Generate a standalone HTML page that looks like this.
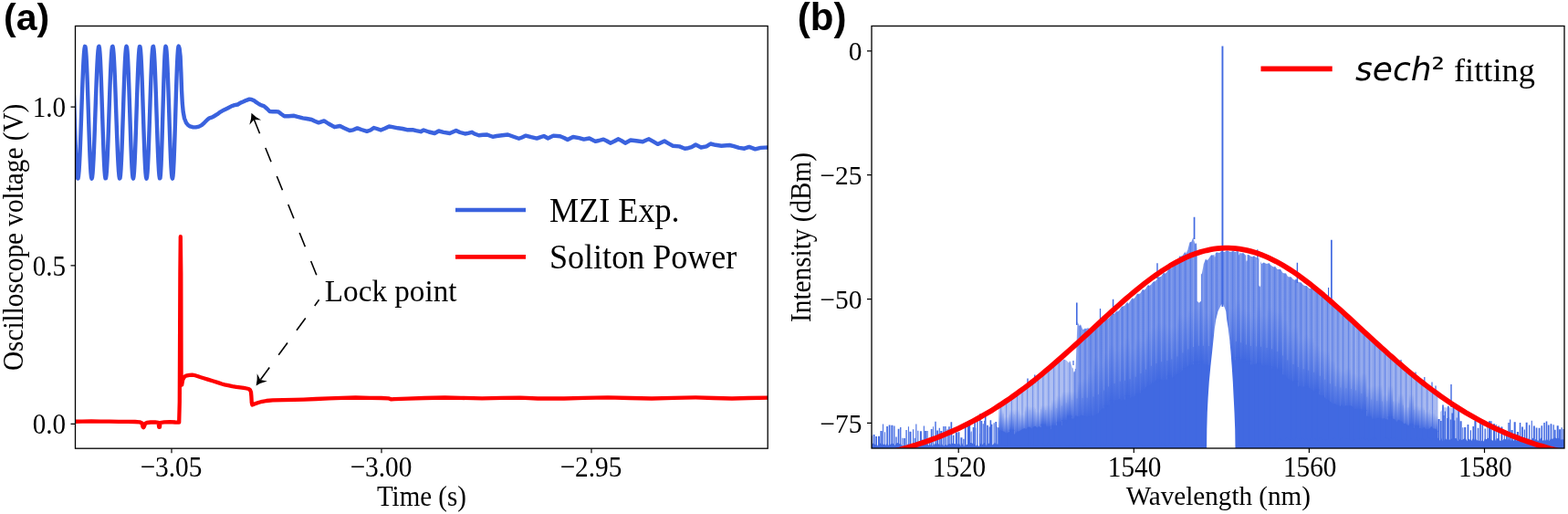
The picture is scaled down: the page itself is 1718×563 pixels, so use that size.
<!DOCTYPE html>
<html><head><meta charset="utf-8"><title>Figure</title>
<style>html,body{margin:0;padding:0;background:#fff;overflow:hidden}svg{display:block}</style>
</head><body>
<svg width="1718" height="563" viewBox="0 0 1718 563">
<defs>
<clipPath id="ca"><rect x="82.5" y="28.5" width="758.7" height="462.7"/></clipPath>
<clipPath id="cb"><rect x="955.0" y="28.5" width="759.0" height="462.5"/></clipPath>
</defs>
<rect width="1718" height="563" fill="#fff"/>
<g clip-path="url(#ca)" fill="none" stroke-linejoin="round" stroke-linecap="round">
<path d="M80.0 81.0 L80.5 94.0 L81.0 108.3 L81.5 123.1 L82.0 138.0 L82.5 152.3 L83.0 165.3 L83.5 176.5 L84.0 185.5 L84.5 191.8 L85.0 195.1 L85.5 195.5 L86.0 192.9 L86.5 187.6 L87.0 179.7 L87.5 169.7 L88.0 157.7 L88.5 144.5 L89.0 130.4 L89.5 115.9 L90.0 101.8 L90.5 88.6 L91.0 76.6 L91.5 66.6 L92.0 58.7 L92.5 53.4 L93.0 50.8 L93.5 51.2 L94.0 54.9 L94.5 61.7 L95.0 71.3 L95.5 83.3 L96.0 97.2 L96.5 112.3 L97.0 127.8 L97.5 143.2 L98.0 157.6 L98.5 170.4 L99.0 181.1 L99.5 189.1 L100.0 194.0 L100.5 195.7 L101.0 194.3 L101.5 190.0 L102.0 183.2 L102.5 173.9 L103.0 162.7 L103.5 149.9 L104.0 136.1 L104.5 121.7 L105.0 107.4 L105.5 93.7 L106.0 81.2 L106.5 70.3 L107.0 61.6 L107.5 55.2 L108.0 51.5 L108.5 50.7 L109.0 53.0 L109.5 58.6 L110.0 67.1 L110.5 78.3 L111.0 91.5 L111.5 106.1 L112.0 121.6 L112.5 137.1 L113.0 152.0 L113.5 165.5 L114.0 177.1 L114.5 186.2 L115.0 192.4 L115.5 195.4 L116.0 195.1 L116.5 191.8 L117.0 185.5 L117.5 176.5 L118.0 165.3 L118.5 152.3 L119.0 138.0 L119.5 123.2 L120.0 108.3 L120.5 94.0 L121.0 81.0 L121.5 69.8 L122.0 60.8 L122.5 54.5 L123.0 51.2 L123.5 50.8 L124.0 53.4 L124.5 58.7 L125.0 66.6 L125.5 76.6 L126.0 88.6 L126.5 101.8 L127.0 115.9 L127.5 130.4 L128.0 144.5 L128.5 157.7 L129.0 169.7 L129.5 179.7 L130.0 187.6 L130.5 192.9 L131.0 195.5 L131.5 195.1 L132.0 191.6 L132.5 184.9 L133.0 175.5 L133.5 163.8 L134.0 150.2 L134.5 135.4 L135.0 120.1 L135.5 104.9 L136.0 90.5 L136.5 77.6 L137.0 66.7 L137.5 58.4 L138.0 52.9 L138.5 50.7 L139.0 51.7 L139.5 56.0 L140.0 63.4 L140.5 73.5 L141.0 86.0 L141.5 100.1 L142.0 115.4 L142.5 130.9 L143.0 146.2 L143.5 160.3 L144.0 172.8 L144.5 182.9 L145.0 190.3 L145.5 194.6 L146.0 195.6 L146.5 193.3 L147.0 187.7 L147.5 179.2 L148.0 168.0 L148.5 154.8 L149.0 140.2 L149.5 124.7 L150.0 109.2 L150.5 94.3 L151.0 80.8 L151.5 69.2 L152.0 60.1 L152.5 53.9 L153.0 50.9 L153.5 51.2 L154.0 54.9 L154.5 61.7 L155.0 71.3 L155.5 83.3 L156.0 97.2 L156.5 112.3 L157.0 127.8 L157.5 143.2 L158.0 157.6 L158.5 170.4 L159.0 181.1 L159.5 189.1 L160.0 194.0 L160.5 195.7 L161.0 194.0 L161.5 189.1 L162.0 181.1 L162.5 170.4 L163.0 157.6 L163.5 143.2 L164.0 127.8 L164.5 112.3 L165.0 97.2 L165.5 83.3 L166.0 71.3 L166.5 61.7 L167.0 54.9 L167.5 51.2 L168.0 50.9 L168.5 53.8 L169.0 59.8 L169.5 68.7 L170.0 80.0 L170.5 93.3 L171.0 107.9 L171.5 123.2 L172.0 138.4 L172.5 153.0 L173.0 166.3 L173.5 177.6 L174.0 186.5 L174.5 192.5 L175.0 195.4 L175.5 194.9 L176.0 190.2 L176.5 181.4 L177.0 169.2 L177.5 154.2 L178.0 137.3 L178.5 119.6 L179.0 102.1 L179.5 85.9 L180.0 71.8 L180.5 60.9 L181.0 53.7 L181.5 50.7 L182.0 51.7 L182.5 56.0 L183.0 63.4 L183.5 73.5 L184.0 86.0 L184.5 100.1 L185.0 115.4 L185.5 130.9 L186.0 146.2 L186.5 160.3 L187.0 172.8 L187.5 182.9 L188.0 190.3 L188.5 194.6 L189.0 195.6 L189.5 192.9 L190.0 186.5 L190.5 176.8 L191.0 164.2 L191.5 149.4 L192.0 133.2 L192.5 116.5 L193.0 100.1 L193.5 85.0 L194.0 71.8 L194.5 61.5 L195.0 54.4 L195.5 50.9 L195.7 50.6 L196.6 53.0 L197.6 62.0 L198.4 80.0 L199.1 100.0 L199.8 113.0 L200.7 122.5 L202.0 129.5 L203.9 134.3 L206.0 137.0 L208.1 138.4 L211.0 139.2 L214.5 139.4 L218.0 138.6 L220.9 137.1 L224.0 134.3 L227.3 131.0 L229.5 129.3 L232.6 128.4 L235.0 127.0 L238.0 125.2 L241.5 122.6 L245.4 120.4 L249.0 118.7 L254.0 116.1 L257.0 115.2 L260.4 114.5 L263.5 112.6 L266.8 111.3 L270.0 109.8 L273.2 108.7 L275.5 108.9 L278.5 110.3 L281.0 112.2 L283.8 114.0 L286.5 115.4 L289.1 116.1 L292.5 119.0 L295.5 122.0 L299.0 122.3 L302.0 122.1 L305.1 122.5 L308.0 124.8 L311.5 127.3 L316.0 127.2 L322.2 126.8 L326.0 127.9 L331.8 129.4 L336.0 130.0 L341.4 131.0 L345.0 132.8 L349.1 134.4 L355.1 132.4 L360.0 135.5 L366.5 139.2 L372.5 138.0 L377.0 140.2 L383.1 143.0 L387.0 142.3 L391.5 140.4 L396.0 142.0 L402.0 143.8 L406.0 142.5 L409.6 140.0 L413.0 141.0 L417.2 142.5 L421.5 140.8 L426.3 138.5 L430.0 139.2 L436.0 140.3 L441.0 141.0 L445.9 142.2 L452.0 142.2 L456.0 143.2 L461.0 144.2 L464.1 142.5 L470.0 144.5 L476.2 146.0 L480.7 143.5 L486.0 144.8 L492.8 146.0 L499.7 143.0 L504.0 145.0 L509.5 146.5 L513.0 145.8 L517.1 144.8 L520.5 146.8 L524.6 148.3 L529.0 147.8 L533.7 147.5 L537.0 148.8 L539.8 149.8 L544.0 149.0 L550.0 148.3 L556.4 147.5 L562.0 149.5 L568.5 151.8 L572.0 150.5 L576.1 148.6 L582.0 150.2 L588.2 151.6 L591.0 150.6 L595.9 149.0 L600.4 151.5 L606.3 148.6 L613.7 149.3 L618.0 151.0 L621.9 153.0 L627.9 150.0 L634.5 151.1 L639.7 152.6 L645.7 151.5 L652.3 154.9 L656.0 154.0 L661.2 152.6 L665.0 154.5 L668.7 156.7 L673.0 154.8 L677.6 152.3 L681.0 154.2 L685.0 156.7 L690.9 153.5 L697.0 154.2 L704.3 155.2 L708.0 153.5 L711.0 152.3 L716.0 155.2 L720.6 157.9 L728.0 154.5 L732.0 156.8 L737.0 159.7 L744.4 160.4 L750.3 162.7 L754.0 162.2 L757.7 161.2 L762.2 158.5 L768.1 161.5 L774.0 160.4 L778.5 157.5 L784.0 158.8 L790.4 159.7 L799.3 159.0 L804.0 160.2 L809.7 161.9 L815.6 162.7 L820.8 160.9 L827.5 163.4 L833.4 161.9 L838.0 161.6 L843.0 161.5" stroke="#3a62de" stroke-width="4.4"/>
<path d="M80.0 461.8 L90.0 461.6 L100.0 461.5 L110.0 461.7 L120.0 461.6 L130.0 461.9 L140.0 461.8 L148.0 462.0 L153.0 462.3 L155.5 463.5 L156.5 467.5 L157.2 468.2 L158.0 467.0 L159.0 464.0 L161.0 463.0 L165.0 462.5 L170.0 462.4 L173.5 462.8 L174.2 467.8 L175.0 467.8 L175.5 463.0 L180.0 462.3 L186.0 462.2 L192.0 462.5 L196.2 462.6 L196.8 440.0 L197.4 300.0 L197.8 259.2 L198.3 300.0 L198.6 420.0 L199.2 421.5 L200.2 416.0 L201.5 413.5 L203.0 412.0 L204.9 411.3 L207.5 410.8 L210.6 410.6 L213.0 411.0 L216.3 412.0 L220.0 413.3 L224.0 414.5 L227.7 415.6 L233.0 417.2 L239.0 419.1 L243.0 420.5 L246.1 421.3 L250.0 422.1 L254.5 423.1 L258.9 423.8 L263.0 424.4 L267.0 424.9 L270.3 425.5 L272.5 426.0 L274.0 427.2 L275.0 429.5 L275.4 434.0 L275.8 441.0 L276.4 443.5 L278.8 442.6 L283.0 441.0 L287.4 439.8 L292.0 439.0 L298.7 438.3 L310.0 438.2 L322.0 437.9 L332.6 437.6 L346.0 437.0 L360.3 436.3 L375.0 435.8 L389.6 435.5 L405.0 435.8 L418.0 436.0 L425.5 436.3 L428.7 437.4 L432.0 437.1 L446.7 436.6 L465.0 436.0 L487.4 435.5 L505.0 435.9 L528.2 436.3 L550.0 435.9 L570.0 435.7 L589.2 436.5 L618.0 436.5 L640.0 435.9 L666.0 435.4 L690.0 436.0 L714.0 436.5 L738.0 435.9 L762.0 435.4 L782.0 436.0 L802.0 436.5 L820.0 436.0 L843.0 435.7" stroke="#ff0000" stroke-width="4.3"/>
</g>
<path d="M346.8 301.3 L278.3 130.7" stroke="#000" stroke-width="1.6" fill="none" stroke-dasharray="16.5 16.9" stroke-dashoffset="0"/><path d="M275.5 123.7 Q279.2 127.8 286.1 131.5 L278.4 130.9 L273.3 136.7 Q275.7 129.2 275.5 123.7 Z" fill="#000"/>
<path d="M349.6 328.3 L285.0 416.4" stroke="#000" stroke-width="1.6" fill="none" stroke-dasharray="16.5 16.9" stroke-dashoffset="8.3"/><path d="M280.6 422.4 Q282.1 417.1 281.7 409.3 L285.2 416.1 L292.8 417.4 Q285.2 419.3 280.6 422.4 Z" fill="#000"/>
<defs><linearGradient id="gsol" x1="0" y1="0" x2="0" y2="1"><stop offset="0" stop-color="#4169e1" stop-opacity="0"/><stop offset="1" stop-color="#4169e1" stop-opacity="1"/></linearGradient><linearGradient id="glight" gradientUnits="userSpaceOnUse" x1="1094" y1="0" x2="1577" y2="0"><stop offset="0" stop-color="#b3c3f3"/><stop offset="0.1656" stop-color="#a6b8f0"/><stop offset="0.174" stop-color="#7f99eb"/><stop offset="0.22" stop-color="#6f8de8"/><stop offset="0.675" stop-color="#7592e9"/><stop offset="0.84" stop-color="#8ea5ec"/><stop offset="1" stop-color="#a6b8f0"/></linearGradient></defs>
<g clip-path="url(#cb)">
<path d="M1094.3 492.0L1094.3 446.1L1096.1 444.1L1097.9 444.4L1099.8 443.6L1101.8 440.0L1103.6 440.6L1105.6 439.2L1107.6 435.9L1109.4 436.4L1111.4 434.9L1113.3 431.2L1115.1 432.3L1117.1 430.6L1119.1 427.2L1120.9 427.3L1122.9 426.2L1124.9 422.9L1126.7 422.8L1128.7 421.9L1130.6 418.2L1132.4 418.9L1134.4 417.5L1136.4 413.8L1138.2 414.4L1140.2 413.2L1142.2 410.6L1144.0 409.8L1145.9 408.9L1147.9 406.8L1149.7 406.3L1151.7 404.1L1153.7 401.2L1155.5 399.7L1157.5 398.2L1159.4 395.1L1161.2 394.2L1163.2 395.4L1165.2 393.8L1167.0 393.9L1169.0 395.2L1171.0 397.6L1172.8 395.9L1174.8 403.0L1176.7 404.0L1178.5 404.1L1180.5 352.3L1182.5 357.1L1184.3 356.1L1186.3 360.9L1188.3 360.2L1190.1 360.1L1192.0 359.2L1194.0 360.1L1195.8 359.9L1197.8 362.5L1199.8 358.6L1201.6 359.3L1203.6 357.8L1205.6 354.5L1207.4 354.0L1209.3 353.2L1211.3 349.4L1213.1 349.4L1215.1 348.6L1217.1 345.8L1218.9 344.8L1220.9 344.0L1222.8 341.3L1224.6 341.5L1226.6 339.4L1228.6 336.3L1230.4 335.6L1232.4 334.8L1234.4 331.5L1236.2 332.7L1238.1 330.2L1240.1 327.0L1241.9 327.4L1243.9 325.6L1245.9 321.7L1247.7 322.2L1249.7 321.0L1251.7 317.2L1253.5 317.7L1255.4 316.3L1257.4 312.5L1259.2 313.0L1261.2 311.7L1263.2 309.1L1265.0 308.4L1267.0 307.1L1268.9 303.4L1270.7 303.6L1272.7 302.5L1274.7 298.7L1276.5 299.7L1278.5 297.9L1280.5 294.5L1282.3 294.2L1284.3 293.3L1286.2 290.2L1288.0 290.4L1290.0 286.2L1292.0 281.2L1293.8 280.7L1295.8 279.8L1297.8 276.5L1299.6 277.7L1301.5 273.3L1303.5 265.4L1305.3 265.1L1307.3 260.1L1309.3 267.3L1311.1 266.8L1313.1 295.1L1315.0 300.2L1316.8 300.2L1318.8 289.3L1320.8 284.0L1322.6 285.2L1324.6 283.0L1326.6 279.7L1328.4 279.6L1330.4 279.2L1332.3 276.7L1334.1 276.5L1336.1 277.0L1338.1 275.0L1339.9 275.9L1341.9 275.9L1343.9 274.4L1345.7 274.7L1347.6 276.0L1349.6 275.5L1351.4 275.0L1353.4 276.1L1355.4 274.9L1357.2 275.5L1359.2 277.4L1361.2 277.2L1363.0 277.8L1364.9 279.7L1366.9 278.9L1368.7 279.4L1370.7 281.1L1372.7 281.3L1374.5 280.5L1376.5 282.3L1378.4 283.4L1380.2 283.7L1382.2 288.9L1384.2 287.7L1386.0 288.2L1388.0 289.1L1390.0 288.2L1391.8 290.1L1393.7 291.4L1395.7 292.4L1397.5 292.2L1399.5 294.9L1401.5 295.0L1403.3 295.3L1405.3 298.7L1407.3 299.5L1409.1 299.6L1411.0 303.1L1413.0 303.6L1414.8 303.4L1416.8 306.0L1418.8 306.8L1420.6 305.9L1422.6 309.1L1424.5 309.3L1426.3 310.2L1428.3 312.6L1430.3 313.1L1432.1 313.6L1434.1 315.7L1436.1 316.2L1437.9 315.5L1439.9 318.1L1441.8 317.8L1443.6 318.2L1445.6 320.9L1447.6 321.2L1449.4 322.9L1451.4 324.5L1453.4 325.8L1455.2 325.1L1457.1 329.7L1459.1 334.7L1460.9 333.6L1462.9 337.0L1464.9 339.6L1466.7 338.7L1468.7 342.3L1470.6 344.1L1472.4 344.0L1474.4 347.5L1476.4 348.6L1478.2 349.9L1480.2 352.7L1482.2 354.9L1484.0 355.1L1486.0 358.0L1487.9 359.0L1489.7 359.2L1491.7 363.2L1493.7 364.4L1495.5 365.1L1497.5 368.4L1499.5 370.4L1501.3 369.9L1503.2 373.7L1505.2 374.7L1507.0 375.4L1509.0 378.9L1511.0 380.5L1512.8 381.1L1514.8 384.1L1516.8 386.3L1518.6 385.3L1520.5 389.4L1522.5 391.2L1524.3 390.4L1526.3 394.6L1528.3 396.2L1530.1 395.9L1532.1 399.6L1534.0 400.8L1535.8 400.3L1537.8 404.2L1539.8 405.3L1541.6 405.2L1543.6 408.8L1545.6 410.8L1547.4 410.3L1549.3 413.5L1551.3 415.7L1553.1 414.8L1555.1 418.1L1557.1 419.7L1558.9 419.1L1560.9 422.7L1562.9 424.7L1564.7 424.7L1566.6 427.3L1568.6 428.2L1570.4 428.6L1572.4 431.9L1574.4 434.2L1575.5 432.8L1575.5 492.0Z" fill="url(#glight)"/>
<rect x="1094.3" y="448.9" width="5.5" height="24.8" fill="url(#gsol)"/><rect x="1094.3" y="472.7" width="5.5" height="12" fill="#4169e1"/><rect x="1099.8" y="456.0" width="5.8" height="20.1" fill="url(#gsol)"/><rect x="1099.8" y="475.0" width="5.8" height="12" fill="#4169e1"/><rect x="1105.6" y="448.5" width="5.8" height="23.4" fill="url(#gsol)"/><rect x="1105.6" y="470.9" width="5.8" height="12" fill="#4169e1"/><rect x="1111.4" y="447.9" width="5.8" height="28.8" fill="url(#gsol)"/><rect x="1111.4" y="475.7" width="5.8" height="12" fill="#4169e1"/><rect x="1117.1" y="453.6" width="5.8" height="20.9" fill="url(#gsol)"/><rect x="1117.1" y="473.5" width="5.8" height="12" fill="#4169e1"/><rect x="1122.9" y="444.0" width="5.8" height="29.7" fill="url(#gsol)"/><rect x="1122.9" y="472.8" width="5.8" height="12" fill="#4169e1"/><rect x="1128.7" y="445.1" width="5.8" height="26.9" fill="url(#gsol)"/><rect x="1128.7" y="471.0" width="5.8" height="12" fill="#4169e1"/><rect x="1134.4" y="450.3" width="5.8" height="21.8" fill="url(#gsol)"/><rect x="1134.4" y="471.1" width="5.8" height="12" fill="#4169e1"/><rect x="1140.2" y="443.8" width="5.8" height="22.0" fill="url(#gsol)"/><rect x="1140.2" y="464.8" width="5.8" height="12" fill="#4169e1"/><rect x="1145.9" y="443.2" width="5.8" height="25.3" fill="url(#gsol)"/><rect x="1145.9" y="467.5" width="5.8" height="12" fill="#4169e1"/><rect x="1151.7" y="437.3" width="5.8" height="29.7" fill="url(#gsol)"/><rect x="1151.7" y="466.0" width="5.8" height="12" fill="#4169e1"/><rect x="1157.5" y="432.8" width="5.8" height="30.6" fill="url(#gsol)"/><rect x="1157.5" y="462.4" width="5.8" height="12" fill="#4169e1"/><rect x="1163.2" y="428.8" width="5.8" height="32.2" fill="url(#gsol)"/><rect x="1163.2" y="460.0" width="5.8" height="12" fill="#4169e1"/><rect x="1169.0" y="428.3" width="5.8" height="28.3" fill="url(#gsol)"/><rect x="1169.0" y="455.6" width="5.8" height="12" fill="#4169e1"/><rect x="1174.8" y="428.2" width="5.8" height="33.5" fill="url(#gsol)"/><rect x="1174.8" y="460.7" width="5.8" height="12" fill="#4169e1"/><rect x="1180.5" y="417.5" width="5.8" height="42.1" fill="url(#gsol)"/><rect x="1180.5" y="458.7" width="5.8" height="12" fill="#4169e1"/><rect x="1186.3" y="414.1" width="5.8" height="43.7" fill="url(#gsol)"/><rect x="1186.3" y="456.8" width="5.8" height="12" fill="#4169e1"/><rect x="1192.0" y="407.8" width="5.8" height="49.1" fill="url(#gsol)"/><rect x="1192.0" y="456.0" width="5.8" height="12" fill="#4169e1"/><rect x="1197.8" y="390.5" width="5.8" height="66.5" fill="url(#gsol)"/><rect x="1197.8" y="456.0" width="5.8" height="12" fill="#4169e1"/><rect x="1203.6" y="398.0" width="5.8" height="55.6" fill="url(#gsol)"/><rect x="1203.6" y="452.6" width="5.8" height="12" fill="#4169e1"/><rect x="1209.3" y="386.3" width="5.8" height="58.8" fill="url(#gsol)"/><rect x="1209.3" y="444.1" width="5.8" height="12" fill="#4169e1"/><rect x="1215.1" y="376.9" width="5.8" height="62.5" fill="url(#gsol)"/><rect x="1215.1" y="438.4" width="5.8" height="12" fill="#4169e1"/><rect x="1220.9" y="383.4" width="5.8" height="58.8" fill="url(#gsol)"/><rect x="1220.9" y="441.2" width="5.8" height="12" fill="#4169e1"/><rect x="1226.6" y="376.6" width="5.8" height="64.6" fill="url(#gsol)"/><rect x="1226.6" y="440.2" width="5.8" height="12" fill="#4169e1"/><rect x="1232.4" y="369.9" width="5.8" height="64.2" fill="url(#gsol)"/><rect x="1232.4" y="433.1" width="5.8" height="12" fill="#4169e1"/><rect x="1238.1" y="381.0" width="5.8" height="57.4" fill="url(#gsol)"/><rect x="1238.1" y="437.3" width="5.8" height="12" fill="#4169e1"/><rect x="1243.9" y="370.1" width="5.8" height="62.7" fill="url(#gsol)"/><rect x="1243.9" y="431.8" width="5.8" height="12" fill="#4169e1"/><rect x="1249.7" y="372.8" width="5.8" height="56.2" fill="url(#gsol)"/><rect x="1249.7" y="427.9" width="5.8" height="12" fill="#4169e1"/><rect x="1255.4" y="362.4" width="5.8" height="62.6" fill="url(#gsol)"/><rect x="1255.4" y="424.0" width="5.8" height="12" fill="#4169e1"/><rect x="1261.2" y="358.2" width="5.8" height="64.6" fill="url(#gsol)"/><rect x="1261.2" y="421.8" width="5.8" height="12" fill="#4169e1"/><rect x="1267.0" y="353.0" width="5.8" height="63.7" fill="url(#gsol)"/><rect x="1267.0" y="415.6" width="5.8" height="12" fill="#4169e1"/><rect x="1272.7" y="354.0" width="5.8" height="65.7" fill="url(#gsol)"/><rect x="1272.7" y="418.7" width="5.8" height="12" fill="#4169e1"/><rect x="1278.5" y="357.4" width="5.8" height="55.3" fill="url(#gsol)"/><rect x="1278.5" y="411.7" width="5.8" height="12" fill="#4169e1"/><rect x="1284.3" y="356.8" width="5.8" height="57.6" fill="url(#gsol)"/><rect x="1284.3" y="413.4" width="5.8" height="12" fill="#4169e1"/><rect x="1290.0" y="343.8" width="5.8" height="66.3" fill="url(#gsol)"/><rect x="1290.0" y="409.1" width="5.8" height="12" fill="#4169e1"/><rect x="1295.8" y="346.3" width="5.8" height="58.0" fill="url(#gsol)"/><rect x="1295.8" y="403.3" width="5.8" height="12" fill="#4169e1"/><rect x="1301.5" y="338.9" width="5.8" height="62.9" fill="url(#gsol)"/><rect x="1301.5" y="400.8" width="5.8" height="12" fill="#4169e1"/><rect x="1307.3" y="337.5" width="5.8" height="59.6" fill="url(#gsol)"/><rect x="1307.3" y="396.1" width="5.8" height="12" fill="#4169e1"/><rect x="1313.1" y="333.8" width="5.8" height="62.9" fill="url(#gsol)"/><rect x="1313.1" y="395.8" width="5.8" height="12" fill="#4169e1"/><rect x="1318.8" y="342.8" width="5.8" height="59.5" fill="url(#gsol)"/><rect x="1318.8" y="401.4" width="5.8" height="12" fill="#4169e1"/><rect x="1324.6" y="338.0" width="5.8" height="61.5" fill="url(#gsol)"/><rect x="1324.6" y="398.5" width="5.8" height="12" fill="#4169e1"/><rect x="1330.4" y="339.9" width="5.8" height="58.0" fill="url(#gsol)"/><rect x="1330.4" y="396.9" width="5.8" height="12" fill="#4169e1"/><rect x="1336.1" y="336.8" width="5.8" height="60.5" fill="url(#gsol)"/><rect x="1336.1" y="396.3" width="5.8" height="12" fill="#4169e1"/><rect x="1341.9" y="329.3" width="5.8" height="64.0" fill="url(#gsol)"/><rect x="1341.9" y="392.3" width="5.8" height="12" fill="#4169e1"/><rect x="1347.6" y="337.3" width="5.8" height="58.6" fill="url(#gsol)"/><rect x="1347.6" y="394.9" width="5.8" height="12" fill="#4169e1"/><rect x="1353.4" y="327.9" width="5.8" height="64.2" fill="url(#gsol)"/><rect x="1353.4" y="391.1" width="5.8" height="12" fill="#4169e1"/><rect x="1359.2" y="337.7" width="5.8" height="56.6" fill="url(#gsol)"/><rect x="1359.2" y="393.3" width="5.8" height="12" fill="#4169e1"/><rect x="1364.9" y="340.3" width="5.8" height="56.0" fill="url(#gsol)"/><rect x="1364.9" y="395.3" width="5.8" height="12" fill="#4169e1"/><rect x="1370.7" y="345.5" width="5.8" height="58.2" fill="url(#gsol)"/><rect x="1370.7" y="402.7" width="5.8" height="12" fill="#4169e1"/><rect x="1376.5" y="333.9" width="5.8" height="65.0" fill="url(#gsol)"/><rect x="1376.5" y="397.9" width="5.8" height="12" fill="#4169e1"/><rect x="1382.2" y="345.1" width="5.8" height="57.2" fill="url(#gsol)"/><rect x="1382.2" y="401.4" width="5.8" height="12" fill="#4169e1"/><rect x="1388.0" y="336.4" width="5.8" height="65.6" fill="url(#gsol)"/><rect x="1388.0" y="401.0" width="5.8" height="12" fill="#4169e1"/><rect x="1393.7" y="340.0" width="5.8" height="63.5" fill="url(#gsol)"/><rect x="1393.7" y="402.5" width="5.8" height="12" fill="#4169e1"/><rect x="1399.5" y="341.2" width="5.8" height="63.7" fill="url(#gsol)"/><rect x="1399.5" y="403.9" width="5.8" height="12" fill="#4169e1"/><rect x="1405.3" y="350.4" width="5.8" height="64.9" fill="url(#gsol)"/><rect x="1405.3" y="414.3" width="5.8" height="12" fill="#4169e1"/><rect x="1411.0" y="359.9" width="5.8" height="59.4" fill="url(#gsol)"/><rect x="1411.0" y="418.3" width="5.8" height="12" fill="#4169e1"/><rect x="1416.8" y="357.1" width="5.8" height="61.2" fill="url(#gsol)"/><rect x="1416.8" y="417.3" width="5.8" height="12" fill="#4169e1"/><rect x="1422.6" y="370.8" width="5.8" height="55.6" fill="url(#gsol)"/><rect x="1422.6" y="425.4" width="5.8" height="12" fill="#4169e1"/><rect x="1428.3" y="366.3" width="5.8" height="57.9" fill="url(#gsol)"/><rect x="1428.3" y="423.2" width="5.8" height="12" fill="#4169e1"/><rect x="1434.1" y="369.3" width="5.8" height="60.5" fill="url(#gsol)"/><rect x="1434.1" y="428.7" width="5.8" height="12" fill="#4169e1"/><rect x="1439.9" y="377.4" width="5.8" height="50.1" fill="url(#gsol)"/><rect x="1439.9" y="426.5" width="5.8" height="12" fill="#4169e1"/><rect x="1445.6" y="383.0" width="5.8" height="53.8" fill="url(#gsol)"/><rect x="1445.6" y="435.8" width="5.8" height="12" fill="#4169e1"/><rect x="1451.4" y="384.4" width="5.8" height="56.3" fill="url(#gsol)"/><rect x="1451.4" y="439.7" width="5.8" height="12" fill="#4169e1"/><rect x="1457.1" y="393.8" width="5.8" height="52.6" fill="url(#gsol)"/><rect x="1457.1" y="445.4" width="5.8" height="12" fill="#4169e1"/><rect x="1462.9" y="401.7" width="5.8" height="45.4" fill="url(#gsol)"/><rect x="1462.9" y="446.2" width="5.8" height="12" fill="#4169e1"/><rect x="1468.7" y="405.9" width="5.8" height="41.1" fill="url(#gsol)"/><rect x="1468.7" y="446.0" width="5.8" height="12" fill="#4169e1"/><rect x="1474.4" y="402.3" width="5.8" height="46.2" fill="url(#gsol)"/><rect x="1474.4" y="447.5" width="5.8" height="12" fill="#4169e1"/><rect x="1480.2" y="408.8" width="5.8" height="40.6" fill="url(#gsol)"/><rect x="1480.2" y="448.5" width="5.8" height="12" fill="#4169e1"/><rect x="1486.0" y="410.7" width="5.8" height="38.5" fill="url(#gsol)"/><rect x="1486.0" y="448.2" width="5.8" height="12" fill="#4169e1"/><rect x="1491.7" y="408.2" width="5.8" height="41.8" fill="url(#gsol)"/><rect x="1491.7" y="449.0" width="5.8" height="12" fill="#4169e1"/><rect x="1497.5" y="423.1" width="5.8" height="34.6" fill="url(#gsol)"/><rect x="1497.5" y="456.7" width="5.8" height="12" fill="#4169e1"/><rect x="1503.2" y="422.3" width="5.8" height="37.6" fill="url(#gsol)"/><rect x="1503.2" y="458.9" width="5.8" height="12" fill="#4169e1"/><rect x="1509.0" y="421.5" width="5.8" height="38.0" fill="url(#gsol)"/><rect x="1509.0" y="458.4" width="5.8" height="12" fill="#4169e1"/><rect x="1514.8" y="432.0" width="5.8" height="31.7" fill="url(#gsol)"/><rect x="1514.8" y="462.7" width="5.8" height="12" fill="#4169e1"/><rect x="1520.5" y="422.3" width="5.8" height="35.2" fill="url(#gsol)"/><rect x="1520.5" y="456.4" width="5.8" height="12" fill="#4169e1"/><rect x="1526.3" y="438.4" width="5.8" height="26.8" fill="url(#gsol)"/><rect x="1526.3" y="464.3" width="5.8" height="12" fill="#4169e1"/><rect x="1532.1" y="431.2" width="5.8" height="34.0" fill="url(#gsol)"/><rect x="1532.1" y="464.3" width="5.8" height="12" fill="#4169e1"/><rect x="1537.8" y="445.3" width="5.8" height="24.6" fill="url(#gsol)"/><rect x="1537.8" y="468.9" width="5.8" height="12" fill="#4169e1"/><rect x="1543.6" y="431.6" width="5.8" height="34.0" fill="url(#gsol)"/><rect x="1543.6" y="464.7" width="5.8" height="12" fill="#4169e1"/><rect x="1549.3" y="443.9" width="5.8" height="23.3" fill="url(#gsol)"/><rect x="1549.3" y="466.2" width="5.8" height="12" fill="#4169e1"/><rect x="1555.1" y="445.4" width="5.8" height="25.6" fill="url(#gsol)"/><rect x="1555.1" y="469.9" width="5.8" height="12" fill="#4169e1"/><rect x="1560.9" y="450.3" width="5.8" height="21.5" fill="url(#gsol)"/><rect x="1560.9" y="470.8" width="5.8" height="12" fill="#4169e1"/><rect x="1566.6" y="452.2" width="5.8" height="20.9" fill="url(#gsol)"/><rect x="1566.6" y="472.1" width="5.8" height="12" fill="#4169e1"/><rect x="1572.4" y="454.9" width="3.1" height="18.1" fill="url(#gsol)"/><rect x="1572.4" y="472.0" width="3.1" height="12" fill="#4169e1"/>
<path d="M1094.3 492.0L1094.3 472.5L1096.3 471.0L1098.3 472.4L1100.3 472.8L1102.3 474.8L1104.3 474.0L1106.3 472.6L1108.3 476.3L1110.3 475.8L1112.3 475.6L1114.3 472.5L1116.3 472.6L1118.3 471.2L1120.3 470.0L1122.3 468.9L1124.3 470.0L1126.3 467.8L1128.3 467.4L1130.3 469.7L1132.3 467.8L1134.3 466.5L1136.3 468.4L1138.3 467.0L1140.3 468.3L1142.3 467.6L1144.3 468.9L1146.3 469.7L1148.3 469.6L1150.3 469.1L1152.3 470.3L1154.3 470.1L1156.3 466.6L1158.3 465.6L1160.3 464.5L1162.3 466.9L1164.3 465.5L1166.3 461.5L1168.3 463.3L1170.3 459.1L1172.3 459.2L1174.3 458.3L1176.3 459.2L1178.3 455.2L1180.3 455.8L1182.3 456.7L1184.3 454.4L1186.3 455.0L1188.3 455.8L1190.3 457.4L1192.3 456.8L1194.3 456.8L1196.3 456.1L1198.3 455.4L1200.3 455.2L1202.3 453.3L1204.3 452.2L1206.3 449.1L1208.3 447.0L1210.3 447.9L1212.3 444.0L1214.3 445.6L1216.3 442.9L1218.3 440.6L1220.3 442.0L1222.3 438.0L1224.3 438.7L1226.3 436.4L1228.3 439.4L1230.3 437.4L1232.3 437.9L1234.3 435.4L1236.3 437.0L1238.3 436.1L1240.3 435.1L1242.3 435.5L1244.3 432.4L1246.3 431.1L1248.3 430.9L1250.3 430.1L1252.3 426.6L1254.3 426.4L1256.3 423.0L1258.3 423.0L1260.3 422.5L1262.3 418.5L1264.3 420.0L1266.3 416.3L1268.3 419.3L1270.3 416.8L1272.3 416.1L1274.3 416.9L1276.3 415.7L1278.3 416.1L1280.3 413.1L1282.3 414.4L1284.3 413.7L1286.3 414.3L1288.3 409.7L1290.3 410.2L1292.3 409.6L1294.3 407.8L1296.3 404.4L1298.3 405.0L1300.3 402.0L1302.3 400.9L1304.3 402.7L1306.3 399.2L1308.3 399.6L1310.3 400.3L1312.3 399.8L1314.3 399.0L1316.3 399.9L1318.3 398.5L1320.3 399.2L1322.3 400.0L1324.3 399.8L1326.3 400.0L1328.3 399.1L1330.3 399.7L1332.3 398.9L1334.3 399.9L1336.3 398.0L1338.3 397.7L1340.3 398.2L1342.3 396.5L1344.3 395.2L1346.3 396.5L1348.3 394.2L1350.3 395.7L1352.3 395.2L1354.3 393.9L1356.3 395.3L1358.3 393.1L1360.3 395.2L1362.3 397.8L1364.3 397.4L1366.3 398.0L1368.3 399.0L1370.3 399.6L1372.3 399.6L1374.3 399.2L1376.3 398.4L1378.3 398.7L1380.3 398.6L1382.3 399.6L1384.3 402.3L1386.3 400.0L1388.3 400.7L1390.3 400.8L1392.3 402.2L1394.3 404.3L1396.3 404.9L1398.3 403.8L1400.3 404.5L1402.3 408.6L1404.3 408.7L1406.3 411.2L1408.3 410.5L1410.3 415.4L1412.3 414.9L1414.3 417.2L1416.3 417.5L1418.3 419.7L1420.3 422.4L1422.3 423.4L1424.3 422.8L1426.3 424.7L1428.3 424.1L1430.3 424.4L1432.3 425.5L1434.3 424.7L1436.3 425.8L1438.3 428.1L1440.3 429.2L1442.3 427.4L1444.3 431.4L1446.3 433.1L1448.3 433.1L1450.3 433.1L1452.3 437.1L1454.3 436.9L1456.3 440.0L1458.3 440.3L1460.3 442.6L1462.3 441.9L1464.3 443.4L1466.3 444.2L1468.3 445.0L1470.3 443.5L1472.3 446.8L1474.3 444.3L1476.3 444.5L1478.3 444.6L1480.3 444.2L1482.3 446.1L1484.3 448.2L1486.3 448.8L1488.3 447.7L1490.3 448.6L1492.3 450.5L1494.3 453.6L1496.3 453.8L1498.3 456.9L1500.3 457.0L1502.3 457.7L1504.3 459.1L1506.3 459.6L1508.3 458.4L1510.3 458.3L1512.3 459.2L1514.3 459.4L1516.3 458.0L1518.3 459.1L1520.3 459.8L1522.3 457.8L1524.3 458.0L1526.3 458.4L1528.3 459.2L1530.3 462.5L1532.3 459.5L1534.3 461.0L1536.3 461.9L1538.3 464.2L1540.3 463.4L1542.3 466.1L1544.3 465.8L1546.3 466.9L1548.3 469.7L1550.3 467.7L1552.3 469.7L1554.3 469.0L1556.3 469.1L1558.3 470.6L1560.3 467.8L1562.3 470.6L1564.3 470.4L1566.3 469.4L1568.3 466.9L1570.3 469.5L1572.3 469.5L1574.3 470.7L1575.5 492.0Z" fill="#4169e1"/>
<path d="M1096.2 444.3h1V492.0h-1ZM1102.1 439.9h1V492.0h-1ZM1107.9 435.5h1V492.0h-1ZM1114.0 430.9h1V492.0h-1ZM1119.5 426.8h1V492.0h-1ZM1125.1 422.6h1V492.0h-1ZM1131.1 418.1h1V492.0h-1ZM1136.8 413.8h1V492.0h-1ZM1142.4 409.5h1V492.0h-1ZM1148.4 405.0h1V492.0h-1ZM1154.2 399.4h1V492.0h-1ZM1159.8 394.0h1V492.0h-1ZM1165.5 393.7h1V492.0h-1ZM1171.5 395.5h1V492.0h-1ZM1177.2 404.0h1V492.0h-1ZM1182.8 355.6h1V492.0h-1ZM1188.5 359.4h1V492.0h-1ZM1194.4 359.1h1V492.0h-1ZM1200.2 358.5h1V492.0h-1ZM1205.9 353.9h1V492.0h-1ZM1211.3 349.7h1V492.0h-1ZM1217.6 344.7h1V492.0h-1ZM1223.5 339.9h1V492.0h-1ZM1229.0 335.5h1V492.0h-1ZM1234.9 330.8h1V492.0h-1ZM1240.5 326.3h1V492.0h-1ZM1246.6 321.4h1V492.0h-1ZM1252.0 317.1h1V492.0h-1ZM1258.0 312.3h1V492.0h-1ZM1263.8 307.7h1V492.0h-1ZM1269.3 303.2h1V492.0h-1ZM1275.2 298.5h1V492.0h-1ZM1280.6 294.2h1V492.0h-1ZM1286.7 289.3h1V492.0h-1ZM1292.2 280.2h1V492.0h-1ZM1298.2 275.8h1V492.0h-1ZM1303.9 265.1h1V492.0h-1ZM1309.6 266.0h1V492.0h-1ZM1315.3 299.6h1V492.0h-1ZM1321.2 283.8h1V492.0h-1ZM1327.1 279.2h1V492.0h-1ZM1332.6 276.5h1V492.0h-1ZM1338.4 274.9h1V492.0h-1ZM1344.2 274.3h1V492.0h-1ZM1350.2 274.4h1V492.0h-1ZM1356.1 275.0h1V492.0h-1ZM1361.6 276.9h1V492.0h-1ZM1367.3 278.9h1V492.0h-1ZM1373.1 280.2h1V492.0h-1ZM1378.7 281.5h1V492.0h-1ZM1384.4 287.4h1V492.0h-1ZM1390.3 288.0h1V492.0h-1ZM1396.2 291.7h1V492.0h-1ZM1401.8 294.8h1V492.0h-1ZM1407.5 299.3h1V492.0h-1ZM1413.3 302.9h1V492.0h-1ZM1419.2 305.8h1V492.0h-1ZM1424.9 309.2h1V492.0h-1ZM1430.8 312.9h1V492.0h-1ZM1436.3 315.2h1V492.0h-1ZM1442.6 317.8h1V492.0h-1ZM1448.0 321.1h1V492.0h-1ZM1454.1 325.0h1V492.0h-1ZM1459.5 332.8h1V492.0h-1ZM1465.4 338.1h1V492.0h-1ZM1471.0 343.2h1V492.0h-1ZM1477.1 348.8h1V492.0h-1ZM1482.7 353.8h1V492.0h-1ZM1488.4 359.1h1V492.0h-1ZM1494.2 364.3h1V492.0h-1ZM1499.8 369.4h1V492.0h-1ZM1505.7 374.7h1V492.0h-1ZM1511.3 379.9h1V492.0h-1ZM1517.1 385.1h1V492.0h-1ZM1523.1 390.5h1V492.0h-1ZM1528.8 395.8h1V492.0h-1ZM1534.4 400.3h1V492.0h-1ZM1540.1 404.8h1V492.0h-1ZM1545.9 409.5h1V492.0h-1ZM1551.4 413.9h1V492.0h-1ZM1557.3 418.6h1V492.0h-1ZM1563.2 423.4h1V492.0h-1ZM1569.0 428.0h1V492.0h-1Z" fill="#4169e1" fill-opacity="0.55"/>
<path d="M1098.7 444.4h1V453.3h-1ZM1105.4 439.4h1V454.3h-1ZM1110.9 435.3h1V454.1h-1ZM1117.4 430.4h1V452.4h-1ZM1122.3 426.7h1V450.6h-1ZM1127.8 422.6h1V448.7h-1ZM1134.1 417.8h1V447.7h-1ZM1140.0 413.4h1V448.2h-1ZM1145.3 409.4h1V449.1h-1ZM1151.5 404.2h1V449.2h-1ZM1157.2 398.3h1V447.3h-1ZM1162.8 395.8h1V444.4h-1ZM1167.8 395.6h1V441.3h-1ZM1174.3 403.6h1V438.1h-1ZM1179.6 353.2h1V436.6h-1ZM1185.5 361.1h1V436.0h-1ZM1190.7 360.2h1V435.8h-1ZM1197.5 362.7h1V434.6h-1ZM1202.9 358.3h1V431.9h-1ZM1209.1 353.5h1V427.4h-1ZM1214.1 349.4h1V423.6h-1ZM1220.6 344.2h1V419.9h-1ZM1226.7 339.3h1V417.8h-1ZM1232.0 335.1h1V416.7h-1ZM1237.6 330.6h1V415.3h-1ZM1243.7 325.8h1V412.7h-1ZM1249.4 321.2h1V409.0h-1ZM1255.0 316.7h1V404.8h-1ZM1260.9 312.0h1V400.7h-1ZM1266.4 307.6h1V398.0h-1ZM1272.1 303.0h1V396.3h-1ZM1278.4 298.0h1V395.1h-1ZM1283.3 294.1h1V393.6h-1ZM1289.4 286.9h1V390.6h-1ZM1295.4 280.1h1V386.4h-1ZM1301.3 273.1h1V382.4h-1ZM1307.0 260.4h1V380.0h-1ZM1312.9 296.1h1V378.8h-1ZM1317.9 290.3h1V378.7h-1ZM1323.9 283.6h1V379.1h-1ZM1330.0 279.5h1V379.5h-1ZM1335.5 277.4h1V378.5h-1ZM1341.6 276.3h1V376.6h-1ZM1346.9 276.4h1V374.9h-1ZM1353.8 276.5h1V374.1h-1ZM1359.0 277.8h1V375.3h-1ZM1364.9 280.3h1V377.4h-1ZM1369.9 281.5h1V378.9h-1ZM1376.1 282.8h1V379.6h-1ZM1381.1 289.3h1V379.8h-1ZM1387.5 289.5h1V380.9h-1ZM1393.1 291.7h1V382.3h-1ZM1399.2 295.4h1V385.1h-1ZM1404.9 299.2h1V389.6h-1ZM1410.3 303.3h1V394.4h-1ZM1416.5 306.5h1V399.1h-1ZM1421.8 309.3h1V402.1h-1ZM1427.7 313.0h1V404.3h-1ZM1433.2 315.9h1V405.7h-1ZM1439.1 318.4h1V407.8h-1ZM1445.8 321.7h1V411.8h-1ZM1451.1 325.1h1V415.8h-1ZM1456.9 330.5h1V420.2h-1ZM1462.7 337.7h1V423.2h-1ZM1468.4 342.9h1V424.5h-1ZM1474.4 348.4h1V425.2h-1ZM1480.1 353.5h1V426.0h-1ZM1485.0 357.9h1V427.6h-1ZM1491.3 363.6h1V430.9h-1ZM1497.3 369.1h1V434.8h-1ZM1502.2 373.6h1V437.4h-1ZM1508.3 379.1h1V439.1h-1ZM1514.0 384.3h1V439.4h-1ZM1519.3 389.1h1V439.3h-1ZM1526.1 395.2h1V439.7h-1ZM1532.3 400.6h1V441.6h-1ZM1536.8 404.2h1V443.7h-1ZM1542.6 408.8h1V446.6h-1ZM1548.8 413.8h1V448.7h-1ZM1554.4 418.3h1V449.4h-1ZM1560.2 423.0h1V449.1h-1ZM1566.0 427.6h1V448.7h-1ZM1571.7 432.2h1V449.1h-1Z" fill="#fff" fill-opacity="0.16"/>
<path d="M955.0 477.2h0.9V492.0h-0.9ZM956.7 476.1h1.8V492.0h-1.8ZM959.2 477.9h1.8V492.0h-1.8ZM962.0 477.7h2.0V492.0h-2.0ZM964.5 472.1h2.1V492.0h-2.1ZM967.0 464.5h1.0V492.0h-1.0ZM969.0 473.3h1.0V492.0h-1.0ZM971.2 467.1h1.7V492.0h-1.7ZM973.7 465.5h1.8V492.0h-1.8ZM976.4 465.7h2.0V492.0h-2.0ZM979.2 466.5h1.3V492.0h-1.3ZM981.3 478.5h1.4V492.0h-1.4ZM983.7 469.7h1.7V492.0h-1.7ZM986.1 468.0h1.3V492.0h-1.3ZM988.4 479.8h1.1V492.0h-1.1ZM990.2 480.1h1.7V492.0h-1.7ZM992.4 470.9h1.3V492.0h-1.3ZM994.9 467.2h1.0V492.0h-1.0ZM996.4 472.7h2.1V492.0h-2.1ZM1000.0 470.3h1.0V492.0h-1.0ZM1001.6 479.7h1.3V492.0h-1.3ZM1003.3 464.6h1.1V492.0h-1.1ZM1005.3 471.7h1.1V492.0h-1.1ZM1007.9 472.3h2.0V492.0h-2.0ZM1010.2 481.6h1.2V492.0h-1.2ZM1011.8 466.6h1.1V492.0h-1.1ZM1013.2 472.1h1.9V492.0h-1.9ZM1015.5 472.0h1.2V492.0h-1.2ZM1017.8 481.5h1.5V492.0h-1.5ZM1019.8 470.0h1.7V492.0h-1.7ZM1022.0 467.2h0.9V492.0h-0.9ZM1024.3 461.7h1.4V492.0h-1.4ZM1026.2 471.4h1.8V492.0h-1.8ZM1028.7 468.8h1.2V492.0h-1.2ZM1030.3 472.1h2.1V492.0h-2.1ZM1033.2 466.9h1.4V492.0h-1.4ZM1035.2 466.9h1.4V492.0h-1.4ZM1037.5 470.3h1.2V492.0h-1.2ZM1039.2 467.3h1.5V492.0h-1.5ZM1041.5 462.2h1.7V492.0h-1.7ZM1043.9 476.8h1.5V492.0h-1.5ZM1046.8 473.6h2.1V492.0h-2.1ZM1049.5 473.3h1.9V492.0h-1.9ZM1052.4 479.3h2.0V492.0h-2.0ZM1055.2 480.8h1.3V492.0h-1.3ZM1056.9 466.1h1.7V492.0h-1.7ZM1059.9 466.1h1.1V492.0h-1.1ZM1060.0 466.1h1.6V492.0h-1.6ZM1062.3 473.5h1.1V492.0h-1.1ZM1063.8 472.6h0.9V492.0h-0.9ZM1065.7 468.1h1.4V492.0h-1.4ZM1067.8 468.7h1.4V492.0h-1.4ZM1070.3 461.6h1.3V492.0h-1.3ZM1073.0 474.9h1.7V492.0h-1.7ZM1075.0 461.1h1.3V492.0h-1.3ZM1076.8 464.3h1.0V492.0h-1.0ZM1078.2 460.7h1.9V492.0h-1.9ZM1081.1 465.8h1.7V492.0h-1.7ZM1083.6 467.4h1.0V492.0h-1.0ZM1085.3 464.7h2.1V492.0h-2.1ZM1088.6 463.3h1.1V492.0h-1.1ZM1091.1 467.4h1.5V492.0h-1.5ZM1093.2 468.2h1.7V492.0h-1.7ZM1575.5 459.0h2.1V492.0h-2.1ZM1578.0 461.1h1.6V492.0h-1.6ZM1580.5 454.9h1.9V492.0h-1.9ZM1582.7 450.5h1.3V492.0h-1.3ZM1585.2 458.0h1.3V492.0h-1.3ZM1586.8 457.2h1.0V492.0h-1.0ZM1588.8 459.4h1.3V492.0h-1.3ZM1590.4 452.5h1.6V492.0h-1.6ZM1592.4 460.5h1.9V492.0h-1.9ZM1595.7 457.6h1.0V492.0h-1.0ZM1597.4 453.2h1.6V492.0h-1.6ZM1599.7 461.3h1.9V492.0h-1.9ZM1600.0 469.6h1.2V492.0h-1.2ZM1602.3 468.3h1.0V492.0h-1.0ZM1604.2 468.1h2.0V492.0h-2.0ZM1607.6 465.0h1.7V492.0h-1.7ZM1610.8 471.2h1.2V492.0h-1.2ZM1613.4 467.0h1.6V492.0h-1.6ZM1615.4 461.1h2.1V492.0h-2.1ZM1618.8 468.8h1.5V492.0h-1.5ZM1621.1 460.4h1.7V492.0h-1.7ZM1623.6 460.8h1.5V492.0h-1.5ZM1626.5 469.6h1.4V492.0h-1.4ZM1629.3 467.5h1.0V492.0h-1.0ZM1631.0 461.3h2.0V492.0h-2.0ZM1633.2 461.2h1.4V492.0h-1.4ZM1636.0 464.2h2.1V492.0h-2.1ZM1638.8 464.9h1.0V492.0h-1.0ZM1641.3 466.4h1.6V492.0h-1.6ZM1644.4 467.4h2.0V492.0h-2.0ZM1647.8 473.4h1.1V492.0h-1.1ZM1650.0 472.0h1.8V492.0h-1.8ZM1652.2 463.0h1.5V492.0h-1.5ZM1654.0 459.4h1.2V492.0h-1.2ZM1655.6 471.1h2.0V492.0h-2.0ZM1658.7 462.2h2.0V492.0h-2.0ZM1661.9 473.0h2.1V492.0h-2.1ZM1664.8 463.0h1.5V492.0h-1.5ZM1667.1 467.5h1.8V492.0h-1.8ZM1669.8 470.6h1.2V492.0h-1.2ZM1671.7 462.7h1.9V492.0h-1.9ZM1675.0 465.4h1.3V492.0h-1.3ZM1677.7 460.8h1.1V492.0h-1.1ZM1679.9 466.6h1.9V492.0h-1.9ZM1682.7 468.4h1.7V492.0h-1.7ZM1685.7 468.7h1.7V492.0h-1.7ZM1688.5 466.2h1.6V492.0h-1.6ZM1691.3 462.9h1.5V492.0h-1.5ZM1693.7 461.6h1.6V492.0h-1.6ZM1695.9 465.4h1.7V492.0h-1.7ZM1698.6 464.2h1.7V492.0h-1.7ZM1701.5 465.2h1.3V492.0h-1.3ZM1703.1 470.8h1.5V492.0h-1.5ZM1705.7 466.2h2.0V492.0h-2.0ZM1708.1 470.3h2.0V492.0h-2.0ZM1710.5 468.2h1.3V492.0h-1.3ZM1712.5 470.1h1.8V492.0h-1.8ZM1061.6 460.2h1.6V492.0h-1.6ZM1067.3 459.5h1.6V492.0h-1.6ZM1073.1 453.3h1.6V492.0h-1.6ZM1078.9 454.9h1.6V492.0h-1.6ZM1084.6 460.2h1.6V492.0h-1.6ZM1090.4 461.9h1.6V492.0h-1.6ZM1580.2 443.6h1.6V492.0h-1.6ZM1586.0 444.7h1.6V492.0h-1.6ZM1591.8 445.1h1.6V492.0h-1.6ZM1597.5 444.2h1.6V492.0h-1.6Z" fill="#4169e1"/>
<path d="M1578 492.0L1578 446L1598 447L1600 462L1600 492.0Z" fill="#4169e1" fill-opacity="0.35"/>
<path d="M955 492.0L955.0 487.4L956.5 485.5L958.0 486.2L959.5 487.3L961.0 488.7L962.5 485.9L964.0 486.3L965.5 484.6L967.0 487.6L968.5 486.5L970.0 488.1L971.5 485.6L973.0 487.5L974.5 487.5L976.0 486.6L977.5 485.3L979.0 486.3L980.5 487.9L982.0 485.4L983.5 484.9L985.0 486.6L986.5 485.6L988.0 488.1L989.5 488.2L991.0 488.8L992.5 488.3L994.0 487.4L995.5 485.3L997.0 488.2L998.5 487.8L1000.0 487.9L1001.5 487.6L1003.0 488.2L1004.5 485.8L1006.0 487.5L1007.5 486.8L1009.0 486.0L1010.5 486.0L1012.0 485.2L1013.5 486.7L1015.0 486.2L1016.5 486.4L1018.0 488.3L1019.5 487.6L1021.0 487.6L1022.5 488.9L1024.0 485.5L1025.5 486.8L1027.0 484.9L1028.5 486.3L1030.0 488.8L1031.5 484.9L1033.0 487.9L1034.5 488.4L1036.0 486.8L1037.5 488.1L1039.0 486.5L1040.5 486.1L1042.0 486.8L1043.5 485.4L1045.0 485.9L1046.5 485.9L1048.0 488.9L1049.5 486.0L1051.0 485.5L1052.5 488.7L1054.0 485.1L1055.5 488.8L1057.0 488.3L1058.5 487.4L1060.0 486.4L1061.5 485.4L1063.0 485.0L1064.5 485.0L1066.0 486.1L1067.5 486.3L1069.0 488.7L1070.5 486.9L1072.0 489.0L1073.5 487.7L1075.0 485.2L1076.5 487.0L1078.0 485.2L1079.5 484.7L1081.0 488.7L1082.5 486.0L1084.0 485.4L1085.5 485.0L1087.0 487.4L1088.5 486.6L1090.0 484.6L1091.5 487.7L1093.0 485.7L1094.5 488.0L1096.0 486.7L1097.5 486.9L1099.0 486.6L1100.5 487.5L1102.0 489.0L1103.5 488.1L1105.0 484.8L1106.5 486.7L1108.0 485.6L1109.5 485.0L1111.0 485.4L1112.5 485.6L1114.0 488.8L1115.5 487.9L1117.0 488.3L1118.5 487.6L1120.0 485.9L1121.5 486.3L1123.0 486.5L1124.5 485.8L1126.0 486.4L1127.5 488.0L1129.0 484.8L1130.5 485.7L1132.0 486.7L1133.5 487.5L1135.0 487.4L1136.5 487.8L1138.0 485.0L1139.5 485.3L1141.0 485.9L1142.5 485.8L1144.0 487.9L1145.5 489.0L1147.0 487.6L1148.5 484.6L1150.0 485.8L1151.5 488.1L1153.0 488.7L1154.5 487.2L1156.0 486.1L1157.5 486.1L1159.0 487.4L1160.5 488.4L1162.0 486.0L1163.5 485.4L1165.0 484.5L1166.5 485.1L1168.0 488.3L1169.5 487.3L1171.0 489.0L1172.5 484.8L1174.0 486.1L1175.5 488.1L1177.0 487.5L1178.5 484.8L1180.0 486.3L1181.5 487.4L1183.0 487.6L1184.5 486.5L1186.0 485.3L1187.5 488.8L1189.0 486.6L1190.5 487.7L1192.0 486.9L1193.5 484.9L1195.0 485.6L1196.5 484.8L1198.0 485.4L1199.5 485.4L1201.0 486.4L1202.5 485.9L1204.0 486.1L1205.5 488.2L1207.0 484.6L1208.5 485.0L1210.0 488.1L1211.5 486.9L1213.0 486.5L1214.5 485.7L1216.0 486.9L1217.5 485.5L1219.0 488.4L1220.5 488.2L1222.0 485.9L1223.5 484.6L1225.0 488.5L1226.5 485.8L1228.0 487.5L1229.5 488.4L1231.0 488.1L1232.5 488.4L1234.0 486.7L1235.5 488.3L1237.0 486.6L1238.5 485.7L1240.0 486.7L1241.5 486.0L1243.0 488.0L1244.5 488.2L1246.0 485.1L1247.5 485.2L1249.0 486.2L1250.5 486.6L1252.0 488.8L1253.5 488.7L1255.0 488.9L1256.5 487.8L1258.0 487.5L1259.5 485.7L1261.0 486.2L1262.5 484.5L1264.0 488.2L1265.5 485.7L1267.0 484.9L1268.5 485.9L1270.0 486.0L1271.5 487.8L1273.0 484.5L1274.5 485.5L1276.0 488.5L1277.5 488.3L1279.0 487.3L1280.5 487.0L1282.0 485.5L1283.5 488.4L1285.0 487.9L1286.5 486.8L1288.0 485.2L1289.5 485.5L1291.0 486.2L1292.5 486.0L1294.0 484.8L1295.5 486.3L1297.0 486.5L1298.5 485.8L1300.0 486.2L1301.5 486.0L1303.0 486.2L1304.5 487.3L1306.0 486.7L1307.5 485.4L1309.0 488.1L1310.5 486.8L1312.0 486.6L1313.5 487.7L1315.0 487.9L1316.5 488.3L1318.0 488.2L1319.5 487.5L1321.0 487.7L1322.5 485.2L1324.0 487.6L1325.5 485.6L1327.0 485.7L1328.5 485.0L1330.0 486.3L1331.5 484.6L1333.0 487.5L1334.5 487.9L1336.0 488.0L1337.5 485.1L1339.0 487.4L1340.5 488.3L1342.0 484.7L1343.5 485.4L1345.0 485.7L1346.5 486.6L1348.0 485.3L1349.5 486.9L1351.0 486.0L1352.5 487.4L1354.0 486.9L1355.5 487.6L1357.0 485.6L1358.5 487.7L1360.0 487.8L1361.5 487.7L1363.0 484.8L1364.5 488.8L1366.0 487.1L1367.5 485.7L1369.0 486.5L1370.5 486.8L1372.0 486.8L1373.5 485.6L1375.0 485.7L1376.5 486.1L1378.0 488.0L1379.5 486.5L1381.0 484.7L1382.5 486.5L1384.0 485.4L1385.5 484.6L1387.0 488.9L1388.5 485.8L1390.0 486.9L1391.5 486.1L1393.0 484.7L1394.5 488.6L1396.0 488.7L1397.5 485.3L1399.0 486.4L1400.5 480.7L1402.0 479.8L1403.5 482.0L1405.0 482.5L1406.5 482.4L1408.0 482.0L1409.5 479.1L1411.0 480.0L1412.5 481.3L1414.0 482.2L1415.5 480.7L1417.0 481.0L1418.5 482.8L1420.0 479.1L1421.5 480.2L1423.0 480.3L1424.5 483.5L1426.0 480.0L1427.5 479.2L1429.0 480.9L1430.5 481.9L1432.0 479.7L1433.5 482.8L1435.0 479.9L1436.5 482.2L1438.0 479.7L1439.5 483.0L1441.0 479.9L1442.5 482.3L1444.0 482.8L1445.5 480.1L1447.0 479.4L1448.5 481.6L1450.0 481.2L1451.5 481.2L1453.0 482.5L1454.5 481.1L1456.0 481.2L1457.5 481.2L1459.0 481.0L1460.5 480.8L1462.0 479.7L1463.5 480.3L1465.0 480.2L1466.5 480.1L1468.0 482.5L1469.5 479.5L1471.0 479.9L1472.5 481.4L1474.0 480.4L1475.5 480.1L1477.0 480.7L1478.5 481.3L1480.0 482.0L1481.5 483.4L1483.0 482.8L1484.5 480.9L1486.0 481.0L1487.5 480.9L1489.0 480.1L1490.5 483.3L1492.0 479.3L1493.5 479.9L1495.0 482.0L1496.5 481.7L1498.0 480.3L1499.5 483.2L1501.0 480.8L1502.5 481.7L1504.0 479.4L1505.5 483.0L1507.0 479.5L1508.5 480.8L1510.0 483.0L1511.5 483.3L1513.0 483.1L1514.5 482.7L1516.0 480.0L1517.5 479.1L1519.0 481.0L1520.5 479.3L1522.0 483.3L1523.5 479.0L1525.0 480.5L1526.5 479.9L1528.0 479.1L1529.5 481.2L1531.0 479.3L1532.5 483.0L1534.0 482.1L1535.5 480.7L1537.0 482.8L1538.5 482.6L1540.0 480.5L1541.5 482.8L1543.0 483.2L1544.5 481.8L1546.0 480.6L1547.5 483.1L1549.0 483.2L1550.5 480.6L1552.0 479.4L1553.5 482.9L1555.0 482.0L1556.5 480.0L1558.0 481.6L1559.5 480.4L1561.0 483.1L1562.5 480.5L1564.0 479.9L1565.5 479.2L1567.0 480.5L1568.5 483.5L1570.0 480.0L1571.5 481.1L1573.0 483.4L1574.5 479.0L1576.0 480.3L1577.5 482.7L1579.0 479.4L1580.5 483.2L1582.0 482.8L1583.5 479.6L1585.0 481.7L1586.5 481.5L1588.0 482.1L1589.5 480.4L1591.0 480.7L1592.5 480.1L1594.0 480.3L1595.5 479.8L1597.0 483.1L1598.5 483.0L1600.0 480.6L1601.5 482.1L1603.0 481.2L1604.5 480.3L1606.0 480.6L1607.5 483.3L1609.0 480.5L1610.5 481.6L1612.0 483.3L1613.5 480.3L1615.0 482.6L1616.5 479.5L1618.0 482.3L1619.5 482.6L1621.0 482.8L1622.5 483.4L1624.0 482.2L1625.5 483.4L1627.0 480.3L1628.5 481.3L1630.0 480.0L1631.5 479.4L1633.0 481.0L1634.5 482.2L1636.0 482.5L1637.5 479.1L1639.0 483.2L1640.5 480.1L1642.0 480.3L1643.5 482.7L1645.0 483.0L1646.5 482.3L1648.0 480.5L1649.5 481.1L1651.0 482.8L1652.5 480.6L1654.0 482.6L1655.5 482.5L1657.0 481.1L1658.5 483.0L1660.0 480.7L1661.5 482.4L1663.0 481.9L1664.5 480.5L1666.0 481.4L1667.5 481.7L1669.0 481.4L1670.5 479.5L1672.0 483.5L1673.5 483.3L1675.0 479.2L1676.5 483.2L1678.0 481.4L1679.5 479.6L1681.0 482.7L1682.5 480.9L1684.0 482.2L1685.5 482.7L1687.0 481.4L1688.5 479.2L1690.0 482.7L1691.5 482.1L1693.0 483.1L1694.5 480.2L1696.0 482.5L1697.5 482.9L1699.0 480.6L1700.5 480.8L1702.0 480.5L1703.5 479.0L1705.0 480.0L1706.5 480.5L1708.0 479.5L1709.5 482.4L1711.0 480.9L1712.5 481.6L1714.0 480.3L1715.5 480.6L1716 492.0Z" fill="#4169e1"/>
<path d="M1176.0 250h1.8V406.0L1176.9 408.0L1176.0 406.0ZM1311.7 250h4.2V329.8L1313.8 331.8L1311.7 329.8ZM1365.3 250h1.2V284.8L1365.9 286.8L1365.3 284.8ZM1357.2 250h1.0V277.7L1357.7 279.7L1357.2 277.7ZM1330.5 250h1.0V280.0L1331.0 282.0L1330.5 280.0ZM1379.4 250h1.8V312.6L1380.3 314.6L1379.4 312.6ZM1577.0 250h3.0V449.0L1578.5 451.0L1577.0 449.0Z" fill="#fff"/>
<path d="M1322.1 492.0L1322.3 470.0L1322.8 452.0L1323.6 436.0L1324.8 418.0L1326.5 400.0L1328.2 384.4L1329.5 372.0L1330.8 360.0L1332.2 350.6L1334.5 341.0L1336.5 337.0L1338.2 333.5L1340.2 333.5L1341.8 337.0L1343.2 341.0L1344.2 350.6L1345.8 360.0L1347.2 372.0L1348.4 384.4L1349.6 400.0L1350.8 418.0L1351.7 436.0L1352.5 452.0L1353.2 470.0L1353.5 492.0Z" fill="#fff"/>
<path d="M1179.0 331.4h1.6V356.0h-1.6ZM1218.9 327.7h1.4V345.0h-1.4ZM1267.3 288.2h1.4V305.0h-1.4ZM1307.7 237.8h1.7V262.0h-1.7ZM1338.5 50.5h1.9V336.0h-1.9ZM1420.7 287.8h1.4V310.0h-1.4ZM1458.0 262.7h1.7V330.0h-1.7ZM1589.3 421.0h1.4V446.0h-1.4ZM1204.9 338.0h1.2V352.0h-1.2ZM1377.2 273.2h1.2V284.0h-1.2ZM1534.4 394.0h1.2V402.0h-1.2ZM1550.4 407.6h1.2V415.0h-1.2ZM1560.2 413.0h1.2V421.0h-1.2ZM1568.4 418.4h1.2V428.0h-1.2ZM1572.4 422.4h1.2V431.0h-1.2ZM1455.0 315.0h1.2V330.0h-1.2ZM1125.3 414.5h1.4V425.0h-1.4ZM1133.1 410.5h1.4V420.0h-1.4ZM1175.4 395.0h1.2V400.0h-1.2Z" fill="#4169e1"/>
<path d="M950.0 500.5 L954.0 499.7 L958.0 498.9 L962.0 498.1 L966.0 497.3 L970.0 496.4 L974.0 495.4 L978.0 494.5 L982.0 493.5 L986.0 492.5 L990.0 491.4 L994.0 490.2 L998.0 489.1 L1002.0 487.9 L1006.0 486.6 L1010.0 485.3 L1014.0 483.9 L1018.0 482.5 L1022.0 481.1 L1026.0 479.6 L1030.0 478.0 L1034.0 476.4 L1038.0 474.7 L1042.0 473.0 L1046.0 471.2 L1050.0 469.3 L1054.0 467.4 L1058.0 465.4 L1062.0 463.4 L1066.0 461.3 L1070.0 459.1 L1074.0 456.9 L1078.0 454.6 L1082.0 452.3 L1086.0 449.9 L1090.0 447.4 L1094.0 444.8 L1098.0 442.2 L1102.0 439.5 L1106.0 436.8 L1110.0 434.0 L1114.0 431.1 L1118.0 428.2 L1122.0 425.2 L1126.0 422.2 L1130.0 419.1 L1134.0 415.9 L1138.0 412.7 L1142.0 409.4 L1146.0 406.1 L1150.0 402.7 L1154.0 399.3 L1158.0 395.8 L1162.0 392.3 L1166.0 388.8 L1170.0 385.2 L1174.0 381.6 L1178.0 378.0 L1182.0 374.3 L1186.0 370.7 L1190.0 367.0 L1194.0 363.3 L1198.0 359.6 L1202.0 355.9 L1206.0 352.2 L1210.0 348.5 L1214.0 344.9 L1218.0 341.2 L1222.0 337.6 L1226.0 334.1 L1230.0 330.5 L1234.0 327.0 L1238.0 323.6 L1242.0 320.2 L1246.0 316.9 L1250.0 313.7 L1254.0 310.5 L1258.0 307.5 L1262.0 304.5 L1266.0 301.6 L1270.0 298.8 L1274.0 296.1 L1278.0 293.6 L1282.0 291.1 L1286.0 288.8 L1290.0 286.6 L1294.0 284.6 L1298.0 282.6 L1302.0 280.9 L1306.0 279.2 L1310.0 277.8 L1314.0 276.4 L1318.0 275.3 L1322.0 274.3 L1326.0 273.4 L1330.0 272.7 L1334.0 272.2 L1338.0 271.9 L1342.0 271.7 L1346.0 271.7 L1350.0 271.8 L1354.0 272.2 L1358.0 272.6 L1362.0 273.3 L1366.0 274.1 L1370.0 275.1 L1374.0 276.3 L1378.0 277.6 L1382.0 279.0 L1386.0 280.6 L1390.0 282.4 L1394.0 284.3 L1398.0 286.3 L1402.0 288.5 L1406.0 290.8 L1410.0 293.2 L1414.0 295.8 L1418.0 298.4 L1422.0 301.2 L1426.0 304.1 L1430.0 307.1 L1434.0 310.1 L1438.0 313.3 L1442.0 316.5 L1446.0 319.8 L1450.0 323.1 L1454.0 326.6 L1458.0 330.0 L1462.0 333.6 L1466.0 337.1 L1470.0 340.7 L1474.0 344.4 L1478.0 348.0 L1482.0 351.7 L1486.0 355.4 L1490.0 359.1 L1494.0 362.8 L1498.0 366.5 L1502.0 370.2 L1506.0 373.8 L1510.0 377.5 L1514.0 381.1 L1518.0 384.7 L1522.0 388.3 L1526.0 391.8 L1530.0 395.4 L1534.0 398.8 L1538.0 402.2 L1542.0 405.6 L1546.0 409.0 L1550.0 412.2 L1554.0 415.5 L1558.0 418.6 L1562.0 421.8 L1566.0 424.8 L1570.0 427.8 L1574.0 430.7 L1578.0 433.6 L1582.0 436.4 L1586.0 439.2 L1590.0 441.9 L1594.0 444.5 L1598.0 447.0 L1602.0 449.5 L1606.0 452.0 L1610.0 454.3 L1614.0 456.6 L1618.0 458.8 L1622.0 461.0 L1626.0 463.1 L1630.0 465.2 L1634.0 467.1 L1638.0 469.1 L1642.0 470.9 L1646.0 472.7 L1650.0 474.5 L1654.0 476.1 L1658.0 477.8 L1662.0 479.3 L1666.0 480.9 L1670.0 482.3 L1674.0 483.7 L1678.0 485.1 L1682.0 486.4 L1686.0 487.7 L1690.0 488.9 L1694.0 490.1 L1698.0 491.2 L1702.0 492.3 L1706.0 493.4 L1710.0 494.4 L1714.0 495.3 L1718.0 496.2" fill="none" stroke="#ff0000" stroke-width="5.8" stroke-linejoin="round"/>
</g>
<rect x="82.5" y="28.5" width="758.7" height="462.7" fill="none" stroke="#000" stroke-width="1.3"/>
<rect x="955.0" y="28.5" width="759.0" height="462.5" fill="none" stroke="#000" stroke-width="1.3"/>
<path d="M77.5 464.4 H82.5 M77.5 290.8 H82.5 M77.5 117.2 H82.5 M188.0 491.2 V496.2 M418.0 491.2 V496.2 M648.0 491.2 V496.2 M950.0 55.8 H955.0 M950.0 191.7 H955.0 M950.0 327.6 H955.0 M950.0 463.4 H955.0 M1050.2 491.0 V496.0 M1242.3 491.0 V496.0 M1434.4 491.0 V496.0 M1626.5 491.0 V496.0" stroke="#000" stroke-width="1.2" fill="none"/>
<g font-family="'Liberation Serif','Times New Roman',serif" fill="#000"><text transform="translate(72.0 475.3) scale(0.97 1.05)" text-anchor="end" font-size="30">0.0</text><text transform="translate(72.0 301.7) scale(0.97 1.05)" text-anchor="end" font-size="30">0.5</text><text transform="translate(72.0 128.1) scale(0.97 1.05)" text-anchor="end" font-size="30">1.0</text><text transform="translate(187.4 522.0) scale(0.98 1.07)" text-anchor="middle" font-size="30">−3.05</text><text transform="translate(417.4 522.0) scale(0.98 1.07)" text-anchor="middle" font-size="30">−3.00</text><text transform="translate(647.4 522.0) scale(0.98 1.07)" text-anchor="middle" font-size="30">−2.95</text><text transform="translate(461.9 553.6) scale(0.98 1.04)" text-anchor="middle" font-size="29.6">Time (s)</text><text transform="translate(25.3 259.9) rotate(-90) scale(0.975 1.06)" text-anchor="middle" font-size="30">Oscilloscope voltage (V)</text><text transform="translate(944.5 65.9) scale(0.98 1.0)" text-anchor="end" font-size="30">0</text><text transform="translate(944.5 201.8) scale(0.98 1.0)" text-anchor="end" font-size="30">−25</text><text transform="translate(944.5 337.7) scale(0.98 1.0)" text-anchor="end" font-size="30">−50</text><text transform="translate(944.5 473.5) scale(0.98 1.0)" text-anchor="end" font-size="30">−75</text><text transform="translate(1051.0 521.8) scale(0.975 1.07)" text-anchor="middle" font-size="30">1520</text><text transform="translate(1243.1 521.8) scale(0.975 1.07)" text-anchor="middle" font-size="30">1540</text><text transform="translate(1435.2 521.8) scale(0.975 1.07)" text-anchor="middle" font-size="30">1560</text><text transform="translate(1627.3 521.8) scale(0.975 1.07)" text-anchor="middle" font-size="30">1580</text><text transform="translate(1334.8 552.8) scale(0.985 1.02)" text-anchor="middle" font-size="29.6">Wavelength (nm)</text><text transform="translate(887.6 259.9) rotate(-90) scale(0.975 1.04)" text-anchor="middle" font-size="30">Intensity (dBm)</text><path d="M499 230 H576" stroke="#3a62de" stroke-width="4.6"/><path d="M499 281.4 H576" stroke="#ff0000" stroke-width="4.6"/><text transform="translate(602.0 243.1) scale(1.005 1.035)" text-anchor="start" font-size="36">MZI Exp.</text><text transform="translate(602.0 294.4) scale(1.002 1.04)" text-anchor="start" font-size="36">Soliton Power</text><text transform="translate(355.8 329.7) scale(1.0 1.035)" text-anchor="start" font-size="33.2">Lock point</text><path d="M1381.5 75.4 H1459.7" stroke="#ff0000" stroke-width="5.6"/><text x="1485" y="88.2" font-size="36" font-family="'DejaVu Sans',sans-serif" font-style="italic">sech<tspan font-style="normal">²</tspan></text><text transform="translate(1593.0 88.9) scale(1.01 1.0)" text-anchor="start" font-size="36">fitting</text><text x="4" y="33" font-family="'Liberation Sans',Arial,sans-serif" font-weight="bold" font-size="41">(a)</text><text x="873.8" y="33.2" font-family="'Liberation Sans',Arial,sans-serif" font-weight="bold" font-size="42">(b)</text></g>
</svg>
</body></html>
